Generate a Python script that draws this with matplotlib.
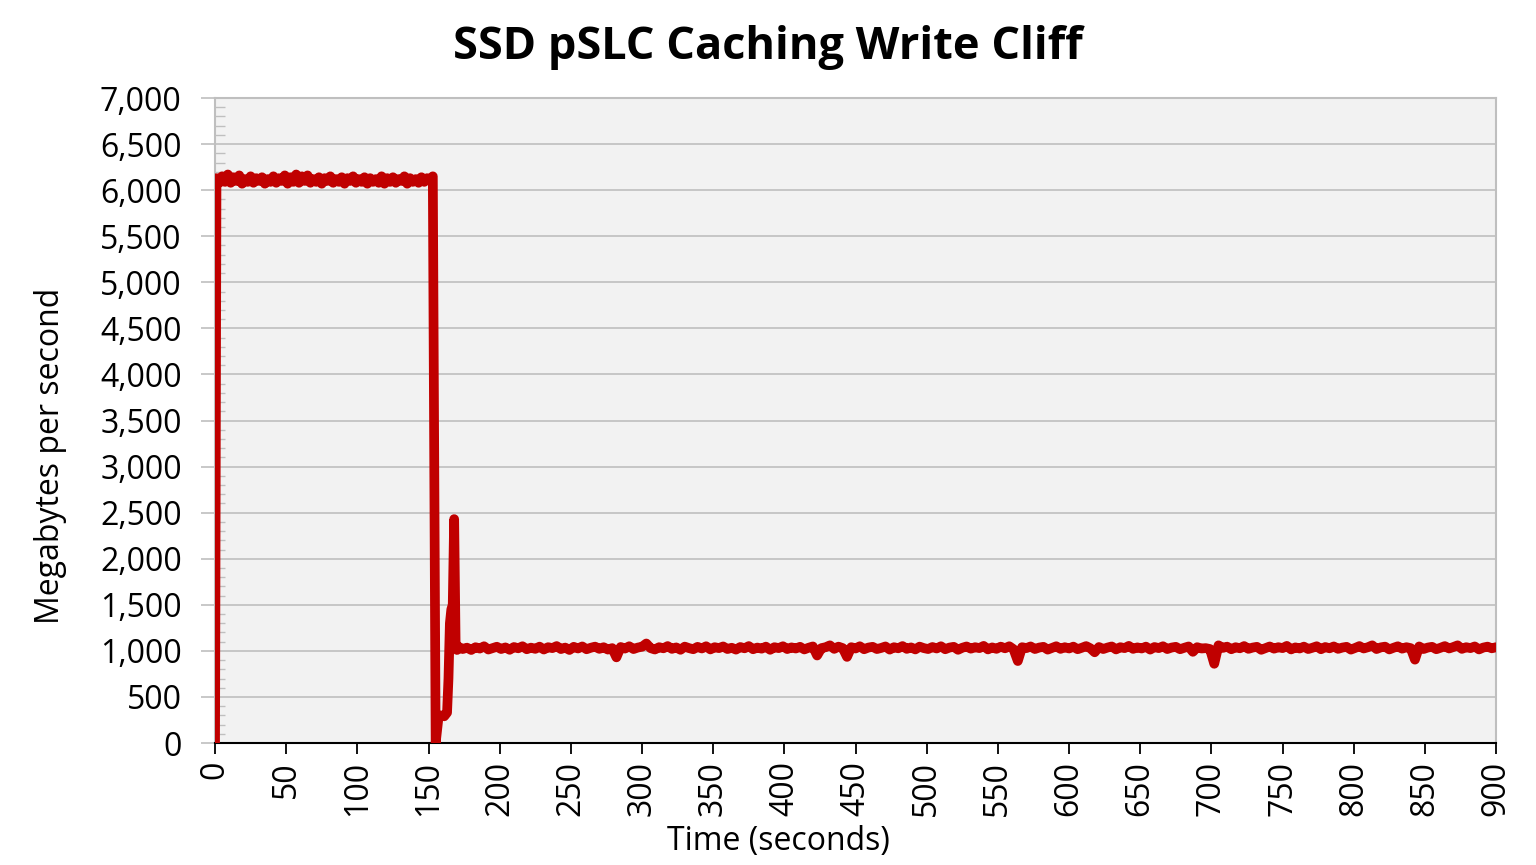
import matplotlib
matplotlib.use("Agg")
import matplotlib.pyplot as plt
from matplotlib.ticker import MultipleLocator, FuncFormatter

# --- data (time in s, throughput in MB/s) ---
start_t = [0]
start_mbps = [0]

plateau_t = list(range(1, 154, 2))
plateau_mbps = [
    6130, 6080, 6150, 6090, 6170, 6080, 6140, 6100, 6160, 6070,
    6120, 6090, 6150, 6080, 6130, 6100, 6140, 6070, 6120, 6090,
    6150, 6080, 6130, 6100, 6160, 6070, 6140, 6090, 6170, 6080,
    6150, 6100, 6160, 6080, 6120, 6090, 6140, 6070, 6130, 6100,
    6150, 6080, 6120, 6090, 6140, 6070, 6130, 6100, 6150, 6080,
    6120, 6090, 6140, 6070, 6130, 6090, 6120, 6080, 6150, 6070,
    6130, 6090, 6140, 6080, 6120, 6100, 6150, 6070, 6130, 6090,
    6120, 6080, 6140, 6090, 6130, 6100, 6150,
]

cliff_t = [155, 157, 159, 161, 163, 164, 165, 166, 167, 168, 169, 170]
cliff_mbps = [0, 280, 300, 290, 330, 700, 1300, 1450, 1500, 2430, 1100, 1010]

tail_t = list(range(171, 901, 3))
tail_mbps = [
    1045, 1020, 1035, 1010, 1040, 1025, 1050, 1015, 1030, 1045,
    1020, 1038, 1012, 1042, 1028, 1050, 1018, 1035, 1022, 1046,
    1015, 1040, 1030, 1052, 1020, 1036, 1010, 1044, 1026, 1048,
    1018, 1034, 1046, 1022, 1040, 1014, 1030, 930, 1042, 1025,
    1050, 1020, 1036, 1045, 1080, 1030, 1015, 1040, 1028, 1052,
    1022, 1038, 1012, 1046, 1030, 1018, 1044, 1026, 1050, 1016,
    1040, 1030, 1048, 1020, 1034, 1014, 1042, 1028, 1052, 1018,
    1036, 1024, 1046, 1012, 1040, 1030, 1050, 1020, 1038, 1026,
    1044, 1016, 1034, 1048, 950, 1030, 1040, 1060, 1022, 1046,
    1030, 935, 1040, 1026, 1050, 1018, 1036, 1044, 1020, 1032,
    1048, 1014, 1040, 1028, 1052, 1022, 1038, 1016, 1046, 1030,
    1020, 1042, 1026, 1050, 1018, 1036, 1044, 1012, 1034, 1048,
    1024, 1040, 1030, 1054, 1016, 1038, 1022, 1046, 1028, 1050,
    1018, 890, 1040, 1030, 1048, 1020, 1036, 1044, 1014, 1032,
    1050, 1022, 1040, 1026, 1046, 1018, 1034, 1052, 1028, 985,
    1042, 1020, 1036, 1048, 1016, 1040, 1030, 1054, 1022, 1038,
    1026, 1046, 1014, 1042, 1030, 1050, 1020, 1036, 1044, 1018,
    1034, 1048, 990, 1040, 1026, 1030, 1020, 860, 1060, 1032,
    1046, 1018, 1040, 1028, 1052, 1022, 1036, 1044, 1012, 1030,
    1048, 1024, 1040, 1030, 1054, 1016, 1038, 1026, 1046, 1020,
    1034, 1050, 1018, 1042, 1028, 1048, 1022, 1036, 1044, 1014,
    1032, 1052, 1026, 1040, 1060, 1020, 1038, 1046, 1016, 1034,
    1050, 1024, 1040, 1030, 905, 1048, 1020, 1036, 1044, 1018,
    1034, 1052, 1026, 1042, 1060, 1022, 1040, 1030, 1048, 1016,
    1036, 1046, 1028, 1040,
]

time_s = start_t + plateau_t + cliff_t + tail_t
mbps = start_mbps + plateau_mbps + cliff_mbps + tail_mbps

plt.rcParams["font.family"] = ["Open Sans", "DejaVu Sans"]

fig = plt.figure(figsize=(15.36, 8.65), dpi=100)
ax = fig.add_axes([0.140, 0.141, 0.834, 0.7457])
ax.set_facecolor("#F2F2F2")

ax.plot(time_s, mbps, color="#C00000", lw=7, solid_joinstyle="round",
        solid_capstyle="round", zorder=3)

ax.set_xlim(0, 900)
ax.set_ylim(0, 7000)
ax.xaxis.set_major_locator(MultipleLocator(50))
ax.yaxis.set_major_locator(MultipleLocator(500))
ax.yaxis.set_minor_locator(MultipleLocator(100))
ax.yaxis.set_major_formatter(FuncFormatter(lambda v, p: f"{int(v):,}"))

ax.grid(axis="y", which="major", color="#BFBFBF", lw=1.2, zorder=1)
ax.set_axisbelow(True)

for side in ["left", "top", "right"]:
    ax.spines[side].set_color("#BFBFBF")
    ax.spines[side].set_linewidth(1.5)
ax.spines["bottom"].set_color("black")
ax.spines["bottom"].set_linewidth(1.5)

ax.tick_params(axis="x", which="major", direction="out", length=8, width=1.3,
               color="black", labelsize=23, labelrotation=90, pad=5)
ax.tick_params(axis="y", which="major", direction="out", length=10, width=1.2,
               color="#BFBFBF", labelsize=23, pad=14)
ax.tick_params(axis="y", which="minor", direction="in", length=7, width=1.0,
               color="#BFBFBF")

fig.text(0.5, 0.945, "SSD pSLC Caching Write Cliff", ha="center", va="center",
         fontsize=32.5, fontweight="bold")
fig.text(0.5065, 0.027, "Time (seconds)", ha="center", va="center", fontsize=23)
fig.text(0.033, 0.473, "Megabytes per second", ha="center", va="center",
         rotation=90, fontsize=23)

fig.savefig("out.png", dpi=100)
